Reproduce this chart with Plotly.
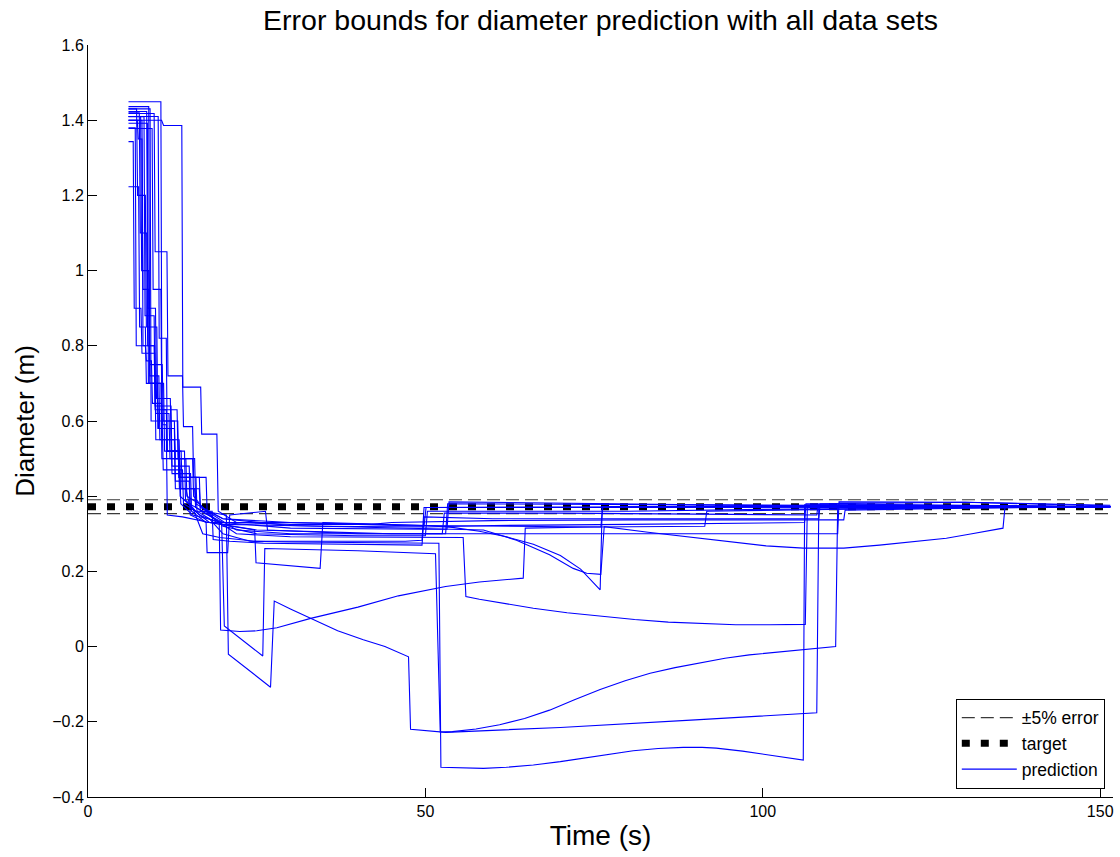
import plotly.graph_objects as go

# ---------------- data ----------------
time_span = [0, 151.9]
target_diameter = [0.372, 0.372]
error_upper = [0.3906, 0.3906]   # target + 5 %
error_lower = [0.3534, 0.3534]   # target - 5 %

x_ticks = [0, 50, 100, 150]
y_ticks = [-0.4, -0.2, 0, 0.2, 0.4, 0.6, 0.8, 1.0, 1.2, 1.4, 1.6]

run01_t = [6.0, 7.6, 7.75, 8.7, 8.85, 9.9, 10.05, 12.0, 12.15, 14.5, 14.65, 16.5, 18.0, 19.45, 19.65,
           22.5, 25, 28, 33, 40, 46, 53, 58, 64.5, 64.8, 75, 91.4, 91.7, 110, 130, 151.5]
run01_d = [1.42, 1.42, 1.10, 1.10, 0.80, 0.80, 0.62, 0.62, 0.50, 0.50, 0.40, 0.38, 0.35, 0.33, 0.044,
           0.040, 0.042, 0.050, 0.075, 0.105, 0.135, 0.160, 0.172, 0.182, 0.315, 0.318, 0.320, 0.360, 0.365, 0.370, 0.372]

run02_t = [6.0, 8.0, 8.15, 9.0, 9.15, 11.2, 11.35, 13.8, 13.95, 15.8, 15.95, 17.0, 20.5, 20.8, 27.05, 27.6, 30, 33.4,
           37, 40.8, 44, 47.5, 47.8, 53, 70, 90, 108.0, 108.3, 130, 151.5]
run02_d = [1.40, 1.40, 0.95, 0.95, 0.70, 0.70, 0.52, 0.52, 0.42, 0.42, 0.37, 0.36, 0.35, -0.02, -0.108, 0.121, 0.100, 0.071,
           0.042, 0.018, 0.0, -0.027, -0.22, -0.228, -0.215, -0.195, -0.176, 0.370, 0.372, 0.372]

run03_t = [6.0, 7.2, 7.35, 8.5, 8.65, 10.2, 10.35, 12.3, 12.45, 15.2, 15.35, 17.5, 19.8, 20.2, 25.9, 26.2,
           40, 51.5, 52.2, 54, 57.5, 61, 64.7, 68.4, 72, 75.9, 79.6, 83.3, 87, 90.7, 94.4, 98.0, 101.8,
           105.5, 108, 110.8, 111.1, 130, 151.5]
run03_d = [1.43, 1.43, 1.20, 1.20, 0.85, 0.85, 0.58, 0.58, 0.46, 0.46, 0.36, 0.33, 0.33, 0.055, -0.025, 0.261,
           0.255, 0.247, -0.227, -0.226, -0.219, -0.208, -0.191, -0.169, -0.142, -0.114, -0.091, -0.071, -0.056, -0.043, -0.031, -0.022, -0.015,
           -0.009, -0.004, 0.0, 0.375, 0.373, 0.372]

run04_t = [6.0, 7.8, 7.95, 9.0, 9.15, 11.0, 11.15, 13.3, 13.45, 16.0, 16.15, 18, 20, 24, 30, 45, 52.0, 52.3,
           55, 58.6, 62, 66, 70, 73.4, 77, 80.8, 84.5, 88.2, 91, 93.1, 97, 100.6, 103, 106.0, 106.2, 130, 151.5]
run04_d = [1.41, 1.41, 1.00, 1.00, 0.75, 0.75, 0.60, 0.60, 0.45, 0.45, 0.36, 0.34, 0.30, 0.28, 0.278, 0.276, 0.275, -0.321,
           -0.323, -0.324, -0.321, -0.315, -0.306, -0.297, -0.287, -0.277, -0.271, -0.268, -0.268, -0.270, -0.278, -0.288, -0.295, -0.302,
           0.377, 0.374, 0.372]

run05_t = [6.0, 6.7, 6.85, 7.85, 8.0, 9.9, 10.05, 12.8, 12.95, 14.5, 15, 17, 22, 30, 55.6, 56.0, 58, 60, 63, 66, 71, 76,
           81, 86, 91, 96, 101, 106.3, 106.6, 130, 151.5]
run05_d = [1.343, 1.343, 0.90, 0.90, 0.78, 0.78, 0.55, 0.55, 0.42, 0.42, 0.38, 0.36, 0.30, 0.292, 0.290, 0.133, 0.126, 0.120, 0.110, 0.102, 0.090, 0.080,
           0.072, 0.065, 0.061, 0.058, 0.058, 0.059, 0.370, 0.372, 0.372]

run06_t = [6.0, 10.8, 10.95, 13.2, 13.35, 15.8, 15.95, 20, 30, 46, 50, 54, 58, 62, 66, 70, 73, 75.9, 76.2, 110, 151.5]
run06_d = [1.449, 1.449, 0.63, 0.63, 0.50, 0.50, 0.38, 0.34, 0.33, 0.325, 0.322, 0.317, 0.307, 0.292, 0.272, 0.242, 0.206,
           0.151, 0.372, 0.373, 0.372]

run07_t = [6.0, 9.0, 9.15, 10.5, 10.65, 13.5, 13.65, 16.5, 16.65, 20, 30, 50, 58.6, 63.5, 68.4, 71.9, 73.9, 76.0,
           76.5, 83, 90.7, 95, 100.5, 106, 112, 117.3, 122, 127.2, 131, 135.6, 135.9, 151.5]
run07_d = [1.436, 1.436, 0.72, 0.72, 0.55, 0.55, 0.45, 0.45, 0.37, 0.34, 0.322, 0.315, 0.31, 0.283, 0.244, 0.208, 0.195, 0.192,
           0.319, 0.304, 0.288, 0.278, 0.268, 0.262, 0.262, 0.270, 0.278, 0.288, 0.300, 0.315, 0.372, 0.372]

run08_t = [6.0, 8.3, 8.45, 9.8, 9.95, 12.3, 12.45, 15.0, 15.15, 18, 24.7, 24.9, 34.4, 34.8, 50, 60, 76, 76.3, 151.5]
run08_d = [1.409, 1.409, 0.88, 0.88, 0.64, 0.64, 0.48, 0.48, 0.37, 0.33, 0.31, 0.223, 0.208, 0.33, 0.322, 0.32, 0.318, 0.372, 0.372]

run09_t = [6.0, 10.9, 11.2, 13.9, 14.05, 16.7, 16.85, 19.1, 19.3, 22, 30, 40, 49.8, 50.1, 151.5]
run09_d = [1.40, 1.40, 1.386, 1.386, 0.69, 0.69, 0.565, 0.565, 0.36, 0.33, 0.325, 0.325, 0.32, 0.37, 0.372]

run10_t = [6.0, 9.8, 9.95, 11.7, 11.85, 14.0, 14.15, 15.5, 15.65, 17.5, 17.65, 22, 30, 45, 53, 53.3, 151.5]
run10_d = [1.418, 1.418, 1.05, 1.05, 0.72, 0.72, 0.585, 0.585, 0.45, 0.45, 0.36, 0.31, 0.30, 0.30, 0.30, 0.38, 0.372]

run11_t = [6.0, 8.7, 8.85, 10.0, 10.15, 12.2, 12.35, 14.3, 14.45, 16.5, 20, 35, 50, 60, 80, 100, 106.2, 106.4, 130, 151.5]
run11_d = [1.423, 1.423, 0.90, 0.90, 0.66, 0.66, 0.52, 0.52, 0.39, 0.35, 0.325, 0.32, 0.318, 0.322, 0.325, 0.33, 0.33, 0.38, 0.375, 0.372]

run12_t = [6.0, 7.3, 7.45, 8.0, 8.15, 9.8, 9.95, 11.6, 11.75, 13.5, 13.65, 15.5, 17, 19.5, 25, 35, 47, 49.5, 49.8, 151.5]
run12_d = [1.40, 1.40, 1.35, 1.35, 0.80, 0.80, 0.63, 0.63, 0.52, 0.52, 0.40, 0.37, 0.30, 0.29, 0.28, 0.28, 0.28, 0.283, 0.37, 0.372]

run13_t = [6.0, 8.8, 8.95, 10.3, 10.45, 12.8, 12.95, 15.0, 15.15, 17.5, 17.65, 20.7, 21.0, 26.3, 26.6, 40, 60, 80,
           100, 111.1, 111.3, 130, 151.5]
run13_d = [1.392, 1.392, 0.70, 0.70, 0.58, 0.58, 0.44, 0.44, 0.35, 0.33, 0.25, 0.25, 0.35, 0.36, 0.31, 0.30, 0.30, 0.30,
           0.302, 0.30, 0.385, 0.384, 0.374]

run14_t = [6.0, 9.5, 9.65, 10.8, 10.95, 12.8, 12.95, 15.5, 15.65, 17, 20, 25, 30, 40, 50.0, 50.3, 80, 100, 151.5]
run14_d = [1.378, 1.378, 0.95, 0.95, 0.60, 0.60, 0.50, 0.50, 0.40, 0.37, 0.32, 0.30, 0.298, 0.295, 0.295, 0.36, 0.36, 0.365, 0.372]

run15_t = [6.0, 7.5, 7.65, 8.5, 8.65, 10.8, 10.95, 13.6, 13.75, 15.5, 20, 30, 50, 53.2, 53.5, 80, 100, 151.5]
run15_d = [1.223, 1.223, 0.85, 0.85, 0.70, 0.70, 0.50, 0.50, 0.38, 0.35, 0.33, 0.315, 0.312, 0.312, 0.385, 0.38, 0.375, 0.372]

run16_t = [6.0, 9.2, 9.35, 11.0, 11.15, 14.0, 14.15, 16, 18.4, 18.55, 21, 26, 49.5, 49.8, 60, 90, 108.3, 108.5, 130, 151.5]
run16_d = [1.43, 1.43, 0.60, 0.60, 0.47, 0.47, 0.38, 0.36, 0.36, 0.285, 0.28, 0.275, 0.27, 0.345, 0.34, 0.34, 0.34, 0.38, 0.384, 0.376]

run17_t = [6.0, 10.4, 10.55, 11.6, 11.75, 13.4, 13.55, 16.5, 16.65, 20, 30, 42, 45, 60, 80, 100, 112.0, 112.2, 130, 151.5]
run17_d = [1.41, 1.41, 0.82, 0.82, 0.52, 0.52, 0.42, 0.42, 0.36, 0.33, 0.33, 0.325, 0.33, 0.335, 0.337, 0.337, 0.337, 0.363, 0.368, 0.372]

run18_t = [6.0, 7.0, 7.15, 8.5, 8.65, 9.4, 9.55, 10.9, 11.05, 11.6, 11.75, 14, 18, 25, 35, 45, 52.5, 52.8, 70, 90,
           108.0, 108.2, 130, 151.5]
run18_d = [1.38, 1.38, 0.80, 0.80, 0.76, 0.76, 0.647, 0.647, 0.59, 0.59, 0.35, 0.345, 0.33, 0.31, 0.305, 0.30, 0.30, 0.355, 0.355, 0.352,
           0.35, 0.377, 0.375, 0.372]

runs = [(run01_t, run01_d), (run02_t, run02_d), (run03_t, run03_d), (run04_t, run04_d),
        (run05_t, run05_d), (run06_t, run06_d), (run07_t, run07_d), (run08_t, run08_d),
        (run09_t, run09_d), (run10_t, run10_d), (run11_t, run11_d), (run12_t, run12_d),
        (run13_t, run13_d), (run14_t, run14_d), (run15_t, run15_d), (run16_t, run16_d),
        (run17_t, run17_d), (run18_t, run18_d)]

# ---------------- figure ----------------
FONT = "Liberation Sans, Arial, Helvetica, sans-serif"
fig = go.Figure()

fig.add_trace(go.Scatter(x=time_span, y=error_upper, mode="lines", name="±5% error",
                         legendgroup="err",
                         line=dict(color="#3a3a3a", width=1.2, dash="13px,6px")))
fig.add_trace(go.Scatter(x=time_span, y=error_lower, mode="lines", name="±5% error",
                         legendgroup="err", showlegend=False,
                         line=dict(color="#3a3a3a", width=1.2, dash="13px,6px")))
fig.add_trace(go.Scatter(x=time_span, y=target_diameter, mode="lines", name="target",
                         line=dict(color="black", width=7, dash="8px,11px")))

for i, (t, d) in enumerate(runs):
    fig.add_trace(go.Scatter(x=t, y=d, mode="lines", name="prediction",
                             legendgroup="pred", showlegend=(i == 0),
                             line=dict(color="rgb(0,0,255)", width=1.1)))

fig.update_layout(
    width=1120, height=857,
    margin=dict(l=88, r=7, t=45, b=60),
    paper_bgcolor="white", plot_bgcolor="white",
    font=dict(family=FONT, color="black", size=16),
    title=dict(text="Error bounds for diameter prediction with all data sets",
               x=0.5, xref="paper", xanchor="center",
               y=1 - 20 / 857, yref="container", yanchor="middle",
               font=dict(size=28.5, family=FONT, color="black")),
    showlegend=True,
    legend=dict(x=0.992, y=0.011, xanchor="right", yanchor="bottom",
                bgcolor="white", bordercolor="black", borderwidth=1,
                font=dict(size=17.5, family=FONT), itemwidth=55, tracegroupgap=0),
)

fig.update_xaxes(range=time_span, tickvals=x_ticks, ticks="inside", ticklen=9,
                 tickcolor="black", showline=True, linecolor="black", linewidth=1,
                 showgrid=False, zeroline=False, mirror=False,
                 tickfont=dict(size=16, family=FONT),
                 title=dict(text="Time (s)", font=dict(size=28, family=FONT), standoff=6))
fig.update_yaxes(range=[-0.4, 1.6], tickvals=y_ticks, ticks="inside", ticklen=9,
                 tickcolor="black", showline=True, linecolor="black", linewidth=1,
                 showgrid=False, zeroline=False, mirror=False,
                 tickfont=dict(size=16, family=FONT),
                 title=dict(text="Diameter (m)", font=dict(size=26, family=FONT), standoff=10))

fig.write_html("out.html")
